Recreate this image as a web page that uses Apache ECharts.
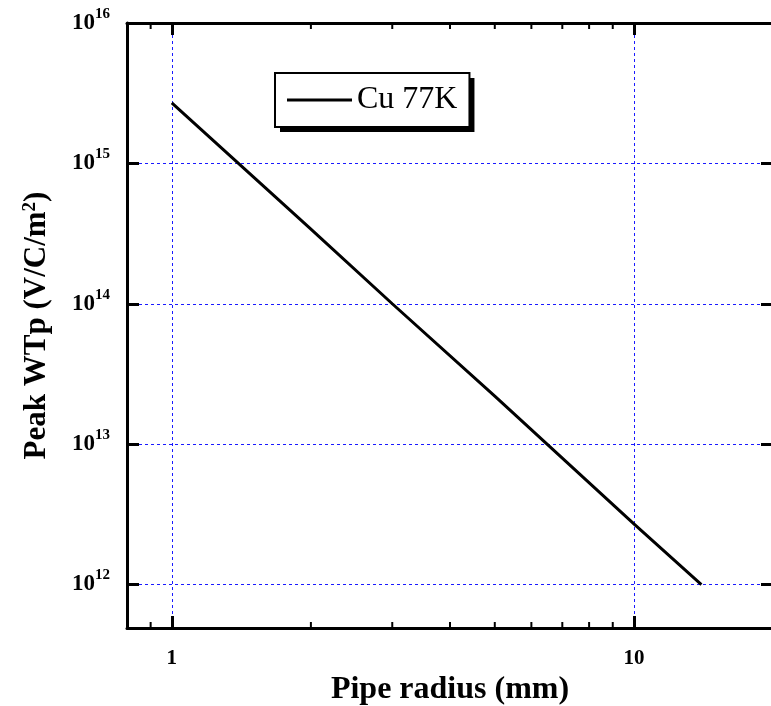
<!DOCTYPE html>
<html>
<head>
<meta charset="utf-8">
<script src="https://cdn.jsdelivr.net/npm/echarts@6/dist/echarts.min.js"></script>
<style>
  html, body { margin: 0; padding: 0; background: #fff; }
  #chart { width: 771px; height: 706px; }
</style>
</head>
<body>
<div id="chart"></div>
<script>
// pipe radius (mm) and peak wake potential (V/C/m^2)
var radius = [1, 2, 3, 5, 10, 14];
var peakWTp = [2.7e15, 3.4e14, 1.0e14, 2.2e13, 2.7e12, 1.0e12];
var seriesName = 'Cu 77K';

var xMin = 0.8, xMax = 20;
var yMin = 4.9e11, yMax = 1e16;

// minor tick positions
var xMinor = [0.9, 2, 3, 4, 5, 6, 7, 8, 9];
var yMinorMult = [2, 3, 4, 5, 6, 7, 8, 9];
var yMinor = [6e11, 7e11, 8e11, 9e11];
[12, 13, 14, 15].forEach(function (d) {
    yMinorMult.forEach(function (m) { yMinor.push(m * Math.pow(10, d)); });
});

var font = "'Liberation Serif', 'Times New Roman', serif";

function isDecade(v) {
    var e = Math.log10(v);
    return Math.abs(e - Math.round(e)) < 1e-6;
}

var axisLine = { show: true, onZero: false, lineStyle: { color: '#000', width: 3 } };
var majorTick = { show: true, inside: true, length: 12, lineStyle: { color: '#000', width: 3 } };
var gridLine = { show: true, lineStyle: { color: '#1a1aff', width: 1, type: [3, 3] } };

var myChart = echarts.init(document.getElementById('chart'));

function minorTicks(dir) {
    return function (params, api) {
        var v = api.value(0);
        var a, b, len = 6;
        if (dir === 'x') {
            a = api.coord([v, yMin]);
            b = api.coord([v, yMax]);
            return { type: 'group', children: [
                { type: 'line', shape: { x1: a[0], y1: a[1], x2: a[0], y2: a[1] - len }, style: { stroke: '#000', lineWidth: 2 } },
                { type: 'line', shape: { x1: b[0], y1: b[1], x2: b[0], y2: b[1] + len }, style: { stroke: '#000', lineWidth: 2 } }
            ] };
        }
        a = api.coord([xMin, v]);
        b = api.coord([xMax, v]);
        return { type: 'group', children: [
            { type: 'line', shape: { x1: a[0], y1: a[1], x2: a[0] + len, y2: a[1] }, style: { stroke: '#000', lineWidth: 2 } },
            { type: 'line', shape: { x1: b[0], y1: b[1], x2: b[0] - len, y2: b[1] }, style: { stroke: '#000', lineWidth: 2 } }
        ] };
    };
}

var legendBase = {
    data: [seriesName],
    left: 275,
    top: 73,
    orient: 'vertical',
    padding: [11, 12, 11, 12],
    icon: 'rect',
    itemWidth: 65,
    itemHeight: 3,
    borderRadius: 0,
    selectedMode: false
};

var option = {
    animation: false,
    backgroundColor: '#fff',
    grid: { left: 127, top: 23, width: 646, height: 605, outerBoundsMode: 'none', containLabel: false },
    legend: [
        // shadow box underneath
        Object.assign({}, legendBase, {
            backgroundColor: '#fff',
            borderWidth: 0,
            shadowColor: '#000',
            shadowBlur: 0,
            shadowOffsetX: 5,
            shadowOffsetY: 5,
            itemStyle: { color: 'rgba(0,0,0,0)' },
            textStyle: { fontFamily: font, fontSize: 32, color: 'rgba(0,0,0,0)' }
        }),
        // framed legend on top
        Object.assign({}, legendBase, {
            backgroundColor: 'rgba(0,0,0,0)',
            borderColor: '#000',
            borderWidth: 2,
            itemStyle: { color: '#000' },
            textStyle: { fontFamily: font, fontSize: 32, color: '#000' }
        })
    ],
    xAxis: [{
        type: 'log',
        min: xMin,
        max: xMax,
        name: 'Pipe radius (mm)',
        nameLocation: 'middle',
        nameGap: 38,
        nameTextStyle: { fontFamily: font, fontSize: 32, fontWeight: 'bold', color: '#000' },
        axisLine: axisLine,
        axisTick: majorTick,
        axisLabel: {
            margin: 20,
            fontFamily: font, fontSize: 21, fontWeight: 'bold', color: '#000',
            formatter: function (v) { return isDecade(v) ? String(Math.round(v)) : ''; }
        },
        splitLine: gridLine
    }, {
        type: 'log',
        position: 'top',
        min: xMin,
        max: xMax,
        axisLine: axisLine,
        axisTick: majorTick,
        axisLabel: { show: false },
        splitLine: { show: false }
    }],
    yAxis: [{
        type: 'log',
        min: yMin,
        max: yMax,
        name: '{t|Peak WTp (V/C/m}{s|2}{t|)}',
        nameLocation: 'middle',
        nameGap: 75,
        nameTextStyle: {
            color: '#000',
            rich: {
                t: { fontFamily: font, fontSize: 31, fontWeight: 'bold', color: '#000' },
                s: { fontFamily: font, fontSize: 19, fontWeight: 'bold', color: '#000', verticalAlign: 'top' }
            }
        },
        axisLine: axisLine,
        axisTick: majorTick,
        axisLabel: {
            margin: 17,
            formatter: function (v) {
                if (!isDecade(v)) return '';
                return '{b|10}{s|' + Math.round(Math.log10(v)) + '}';
            },
            rich: {
                b: { fontFamily: font, fontSize: 23, fontWeight: 'bold', color: '#000' },
                s: { fontFamily: font, fontSize: 15, fontWeight: 'bold', color: '#000', padding: [0, 0, 18, 0] }
            }
        },
        splitLine: gridLine
    }, {
        type: 'log',
        position: 'right',
        min: yMin,
        max: yMax,
        axisLine: axisLine,
        axisTick: majorTick,
        axisLabel: { show: false },
        splitLine: { show: false }
    }],
    series: [{
        name: seriesName,
        type: 'line',
        data: radius.map(function (r, i) { return [r, peakWTp[i]]; }),
        symbol: 'none',
        lineStyle: { color: '#000', width: 3 },
        itemStyle: { color: '#000' },
        z: 5
    }, {
        type: 'custom',
        renderItem: minorTicks('x'),
        data: xMinor.map(function (v) { return [v, yMin]; }),
        silent: true,
        z: 6
    }, {
        type: 'custom',
        renderItem: minorTicks('y'),
        data: yMinor.map(function (v) { return [xMin, v]; }),
        silent: true,
        z: 6
    }]
};
myChart.setOption(option, true);
</script>
</body>
</html>
